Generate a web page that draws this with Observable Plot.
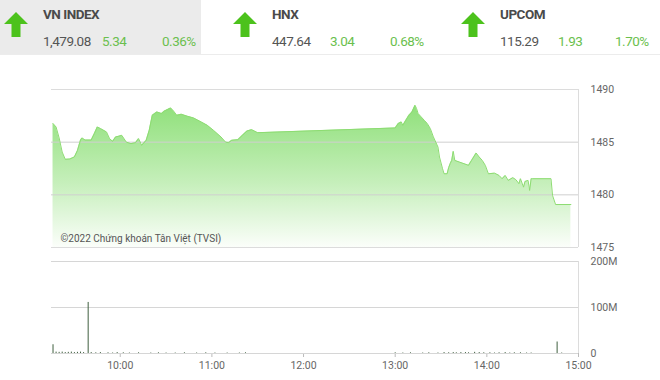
<!DOCTYPE html>
<html>
<head>
<meta charset="utf-8">
<script src="https://cdn.jsdelivr.net/npm/d3@7"></script>
<script src="https://cdn.jsdelivr.net/npm/@observablehq/plot@0.6"></script>
<style>
  html, body { margin: 0; padding: 0; background: #fff; }
  body { width: 660px; height: 380px; position: relative; overflow: hidden; font-family: Roboto, "Noto Sans", sans-serif; }
  #header { position: absolute; left: 0; top: 0; width: 660px; height: 54px; border-bottom: 1px solid #ececec; }
  .panel { position: absolute; top: 0; height: 54px; }
  .panel.active { background: #ebebeb; }
  .arrow { position: absolute; top: 12px; }
  .name { position: absolute; top: 6px; font-weight: bold; font-size: 13.5px; color: #4a4a4a; letter-spacing: -0.5px; }
  .val { position: absolute; top: 33px; font-size: 13.5px; color: #555; letter-spacing: -0.5px; }
  .chg { position: absolute; top: 33px; font-size: 13.5px; color: #6bbf4e; letter-spacing: -0.5px; }
  .chart { position: absolute; left: 0; }
  .chart svg { overflow: visible; }
</style>
</head>
<body>
<div id="header"></div>
<div id="price" class="chart" style="top:79px"></div>
<div id="vol" class="chart" style="top:251px"></div>
<script>
// ---- header data ----
const indexNames = ["VN INDEX", "HNX", "UPCOM"];
const indexValues = ["1,479.08", "447.64", "115.29"];
const indexChanges = ["5.34", "3.04", "1.93"];
const indexPercents = ["0.36%", "0.68%", "1.70%"];

// ---- price series (time, VN-Index) ----
const priceTimes = [
  "09:16","09:18","09:20","09:22","09:24","09:27","09:30","09:32","09:34","09:35",
  "09:37","09:41","09:43","09:45","09:47","09:51","09:53","09:55","09:57","09:59",
  "10:01","10:04","10:07","10:10","10:12","10:14","10:17","10:19","10:21","10:24",
  "10:27","10:29","10:31","10:33","10:35","10:37","10:40","10:44","10:48","10:53",
  "10:57","11:01","11:06","11:09","11:11","11:13","11:17","11:20","11:23","11:26",
  "11:29","11:30","13:00","13:02","13:04","13:05","13:07","13:09","13:11","13:13",
  "13:14","13:15","13:17","13:19","13:21","13:23","13:25","13:28","13:29","13:31",
  "13:32","13:34","13:35","13:36","13:37","13:38","13:39","13:42","13:45","13:48",
  "13:50","13:53","13:55","13:57","13:59","14:01","14:05","14:08","14:10","14:12",
  "14:14","14:17","14:19","14:21","14:22","14:24","14:25","14:27","14:28","14:29",
  "14:30","14:42","14:43","14:45","14:55"
];
const priceValues = [
  1486.77,1486.44,1485.40,1484.06,1483.37,1483.40,1483.60,1484.20,1485.20,1485.40,
  1485.20,1485.20,1485.80,1486.44,1486.30,1485.97,1485.34,1485.08,1485.50,1485.56,
  1485.65,1485.00,1484.86,1484.95,1485.34,1484.70,1485.18,1486.13,1487.55,1487.87,
  1487.72,1487.96,1488.10,1488.25,1487.94,1487.55,1487.65,1487.46,1487.30,1486.92,
  1486.60,1486.13,1485.49,1485.00,1484.96,1485.18,1485.24,1485.65,1486.06,1486.19,
  1485.97,1485.90,1486.35,1486.77,1486.92,1486.60,1487.08,1487.55,1487.87,1488.50,
  1488.19,1487.72,1487.40,1487.08,1486.77,1486.29,1485.50,1484.54,1483.59,1482.48,
  1482.00,1482.00,1482.58,1482.96,1483.27,1484.13,1483.27,1483.11,1482.96,1482.80,
  1483.27,1483.97,1483.59,1483.27,1482.80,1482.00,1482.06,1481.84,1481.53,1481.84,
  1481.37,1481.63,1481.44,1481.06,1481.53,1480.73,1481.27,1481.37,1480.42,1481.53,
  1481.53,1481.53,1479.94,1479.08,1479.08
];

// ---- volume series (time, millions of shares) ----
const volTimes = [
  "09:16","09:18","09:20","09:22","09:24","09:26","09:28","09:30","09:32","09:34",
  "09:36","09:39","09:41","09:44","09:47","09:52","09:55","09:58","10:02","10:06",
  "10:12","10:20","10:25","10:30","10:36","10:42","10:50","10:56","11:02","11:10",
  "11:18","11:22","13:00","13:05","13:10","13:18","13:22","13:28","13:32","13:35",
  "13:38","13:40","13:43","13:46","13:48","13:52","13:55","13:58","14:02","14:05",
  "14:08","14:12","14:15","14:18","14:22","14:26","14:29","14:46","14:49"
];
const volValues = [
  19,3,2.5,3,2,2.5,3,2,2.5,3,
  2,111,2,1.5,2,1.5,1,2,1.5,1,
  1.5,1,1.5,1,1,1.5,1,1.5,1,1,
  1,1.5,1.5,1,1.5,1,1.5,1,2,1.5,
  2,1.5,2,2,1.5,2.5,2,1.5,1.5,1,
  1.5,2,1,1.5,1.5,1,1,25,1
];

// ---- axis ticks ----
const priceTicks = [1475, 1480, 1485, 1490];
const priceGrid = [1480, 1485];
const volTicks = [0, 100, 200];
const volTickLabels = ["0", "100M", "200M"];
const timeTickLabels = ["10:00", "11:00", "12:00", "13:00", "14:00", "15:00"];
const sessionStart = "09:15";
const sessionEnd = "15:00";

const toDate = s => { const [h, m] = s.split(":").map(Number); return new Date(Date.UTC(2022, 0, 1, h, m)); };
const xDomain = [toDate(sessionStart), toDate(sessionEnd)];
const price = priceTimes.map((t, i) => ({time: toDate(t), value: priceValues[i]}));
const volume = volTimes.map((t, i) => ({time: toDate(t), value: volValues[i]}));

// ---- header ----
const header = document.getElementById("header");
const panelX = [0, 228, 456];
const arrowSvg = `<svg width="26" height="26" viewBox="0 0 26 26"><path d="M13 0 L25 12 L17.5 12 L17.5 25 L8.5 25 L8.5 12 L1 12 Z" fill="#4cc21c"/></svg>`;
indexNames.forEach((n, i) => {
  const p = document.createElement("div");
  p.className = "panel" + (i === 0 ? " active" : "");
  p.style.left = panelX[i] + "px";
  p.style.width = (i === 0 ? 201 : 228) + "px";
  p.innerHTML = `<div class="arrow" style="left:${i === 0 ? 3 : 4}px">${arrowSvg}</div>
    <div class="name" style="left:${i === 0 ? 43 : 44}px">${n}</div>
    <div class="val" style="left:${i === 0 ? 43 : 44}px">${indexValues[i]}</div>
    <div class="chg" style="left:${i === 0 ? 102 : 102}px">${indexChanges[i]}</div>
    <div class="chg" style="left:${i === 0 ? 162 : (i === 1 ? 162 : 159)}px">${indexPercents[i]}</div>`;
  header.appendChild(p);
});

// ---- price chart ----
const priceChart = Plot.plot({
  width: 660, height: 180,
  marginTop: 10, marginBottom: 12, marginLeft: 51, marginRight: 82,
  style: {fontFamily: "Roboto, sans-serif", fontSize: "10.5px", color: "#666", background: "transparent"},
  x: {type: "utc", domain: xDomain, axis: null},
  y: {domain: [1475, 1490], ticks: priceTicks, tickFormat: d => String(d), axis: "right", tickSize: 0, tickPadding: 12, label: null},
  marks: [
    Plot.areaY(price, {x: "time", y1: d => 1475, y2: "value", fill: "url(#pgrad)"}),
    Plot.ruleY(priceGrid, {stroke: "#cfcfcf", strokeWidth: 1}),
    Plot.ruleY([1475, 1490], {stroke: "#dcdcdc", strokeWidth: 1}),
    Plot.ruleX([xDomain[1]], {stroke: "#dcdcdc", strokeWidth: 1}),
    Plot.lineY(price, {x: "time", y: "value", stroke: "#8ddc72", strokeWidth: 1}),
    Plot.text(["©2022 Chứng khoán Tân Việt (TVSI)"], {frameAnchor: "bottom-left", dx: 9, dy: -6, fill: "#555", fontSize: 10, textAnchor: "start"})
  ]
});
const defs = d3.select(priceChart).insert("defs", ":first-child");
const g = defs.append("linearGradient").attr("id", "pgrad").attr("x1", 0).attr("y1", 0).attr("x2", 0).attr("y2", 1);
g.append("stop").attr("offset", "0%").attr("stop-color", "#8fe07a");
g.append("stop").attr("offset", "55%").attr("stop-color", "#c6efbb");
g.append("stop").attr("offset", "100%").attr("stop-color", "#fbfefa");
document.getElementById("price").appendChild(priceChart);

// ---- volume chart ----
const volChart = Plot.plot({
  width: 660, height: 129,
  marginTop: 10, marginBottom: 27, marginLeft: 51, marginRight: 82,
  style: {fontFamily: "Roboto, sans-serif", fontSize: "10.5px", color: "#666", background: "transparent"},
  x: {type: "utc", domain: xDomain, ticks: timeTickLabels.map(toDate), tickFormat: d3.utcFormat("%H:%M"), tickSize: 4, tickPadding: 4, label: null},
  y: {domain: [0, 200], ticks: volTicks, tickFormat: d => volTickLabels[volTicks.indexOf(d)], axis: "right", tickSize: 0, tickPadding: 12, label: null},
  marks: [
    Plot.ruleY(volTicks, {stroke: "#d6d6d6", strokeWidth: 1}),
    Plot.ruleX([xDomain[1]], {stroke: "#dcdcdc", strokeWidth: 1}),
    Plot.ruleX(volume, {x: "time", y1: d => 0, y2: "value", stroke: "#3f5f3f", strokeWidth: 1})
  ]
});
d3.select(volChart).selectAll('[aria-label="x-axis tick"] path, [aria-label="x-axis"] line').attr("stroke", "#bbb");
document.getElementById("vol").appendChild(volChart);
</script>
</body>
</html>
